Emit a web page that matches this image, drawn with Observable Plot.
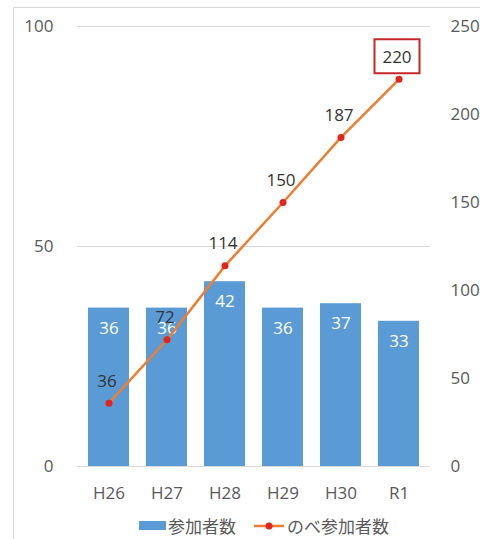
<!DOCTYPE html>
<html>
<head>
<meta charset="utf-8">
<script src="https://cdn.jsdelivr.net/npm/d3@7"></script>
<script src="https://cdn.jsdelivr.net/npm/@observablehq/plot@0.6"></script>
<style>
  html, body { margin: 0; padding: 0; background: #fff; }
  #wrap { position: relative; width: 480px; height: 539px; overflow: hidden; }
  #frame { position: absolute; left: 13px; top: 7px; width: 480px; height: 540px;
           border-left: 1px solid #d9d9d9; border-top: 1px solid #d9d9d9; box-sizing: border-box; }
  #chart { position: absolute; left: 0; top: 0; }
  #legend { position: absolute; left: 24px; top: 512px; width: 480px; height: 27px;
            display: flex; justify-content: center; align-items: center; gap: 0;
            font-family: "Noto Sans CJK JP", sans-serif; font-size: 17px; color: #595959; }
  .item { display: flex; align-items: center; }
  .sw { display: inline-block; width: 27px; height: 9px; background: #5B9BD5; margin-right: 2px; }
</style>
</head>
<body>
<div id="wrap">
  <div id="frame"></div>
  <div id="chart"></div>
  <div id="legend"></div>
</div>
<script>
const years = ["H26", "H27", "H28", "H29", "H30", "R1"];
const participants = [36, 36, 42, 36, 37, 33];
const cumulative = [36, 72, 114, 150, 187, 220];
const leftTicks = [0, 50, 100];
const rightTicks = [0, 50, 100, 150, 200, 250];
const seriesNames = ["参加者数", "のべ参加者数"];
const highlighted = "R1";

const ratio = 2.5; // right axis units per left axis unit
const data = years.map((y, i) => ({year: y, n: participants[i], cum: cumulative[i]}));

const boxSymbol = {
  draw(ctx) {
    ctx.moveTo(-22.5, -17); ctx.lineTo(22.5, -17); ctx.lineTo(22.5, 17);
    ctx.lineTo(-22.5, 17); ctx.closePath();
  }
};

const chart = Plot.plot({
  width: 480,
  height: 505,
  marginTop: 26,
  marginBottom: 39,
  marginLeft: 77,
  marginRight: 50,
  style: {fontFamily: "'Open Sans', sans-serif", fontSize: "17px", color: "#595959", background: "transparent"},
  x: {domain: years, paddingInner: 0.3, paddingOuter: 0.15, label: null},
  y: {domain: [0, 100], label: null},
  marks: [
    Plot.gridY(leftTicks, {stroke: "#d9d9d9", strokeOpacity: 1, strokeWidth: 1}),
    Plot.barY(data, {x: "year", y: "n", fill: "#5B9BD5"}),
    Plot.text(data, {x: "year", y: "n", text: d => String(d.n), dy: 20, fill: "#fff", fontSize: 17}),
    Plot.line(data, {x: "year", y: d => d.cum / ratio, stroke: "#ED7D31", strokeWidth: 2.5}),
    Plot.dot(data, {x: "year", y: d => d.cum / ratio, r: 3.5, fill: "#E3241B", stroke: null}),
    Plot.text(data, {x: "year", y: d => d.cum / ratio, text: d => String(d.cum), dy: -22, dx: -2, fill: "#333", fontSize: 17}),
    Plot.dot(data.filter(d => d.year === highlighted), {x: "year", y: d => d.cum / ratio, dy: -23, dx: -2,
      symbol: boxSymbol, r: 1, fill: "none", stroke: "#C62828", strokeWidth: 2}),
    Plot.axisY(leftTicks, {anchor: "left", tickSize: 0, tickPadding: 24, fontSize: 17, fill: "#595959", label: null}),
    Plot.axisY(rightTicks.map(t => t / ratio), {anchor: "right", tickSize: 0, tickPadding: 20,
      tickFormat: d => String(Math.round(d * ratio)), fontSize: 17, fill: "#595959", label: null}),
    Plot.axisX({tickSize: 0, tickPadding: 20, fontSize: 17, fill: "#595959", label: null})
  ]
});
document.getElementById("chart").appendChild(chart);

const legend = document.getElementById("legend");
legend.innerHTML = `
  <div class="item"><span class="sw"></span><span>${seriesNames[0]}</span></div>
  <div class="item" style="margin-left:18px">
    <svg width="30" height="12" style="margin-right:3px"><line x1="0" y1="6" x2="30" y2="6" stroke="#ED7D31" stroke-width="2.5"/><circle cx="15" cy="6" r="3.5" fill="#E3241B"/></svg>
    <span>${seriesNames[1]}</span></div>`;
</script>
</body>
</html>
